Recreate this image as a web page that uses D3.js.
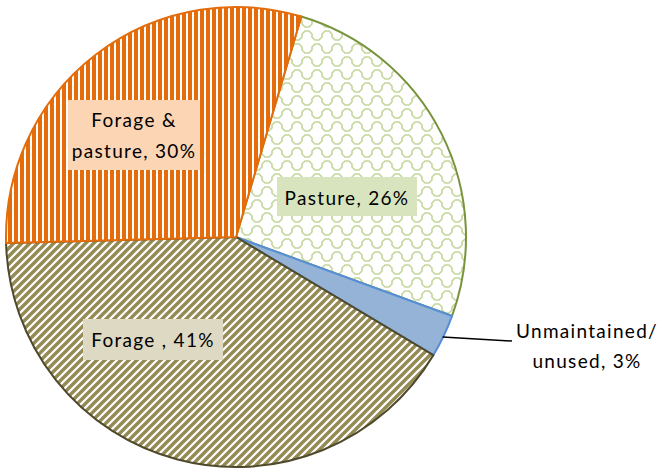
<!DOCTYPE html>
<html><head><meta charset="utf-8">
<script src="https://cdn.jsdelivr.net/npm/d3@7"></script>
<style>body{margin:0;background:#fff}</style>
</head><body>
<svg id="c" width="668" height="469"></svg>
<script>
const categories = ["Pasture", "Unmaintained/ unused", "Forage", "Forage & pasture"];
const values = [26, 3, 41, 30];
const labelLines = [["Pasture, 26%"], ["Unmaintained/", "unused, 3%"], ["Forage , 41%"], ["Forage &", "pasture, 30%"]];

const svg = d3.select("#c");
const cx = 236, cy = 237, R = 230;
const startDeg = 16.5;

const defs = svg.append("defs");
const p1 = defs.append("pattern").attr("id","pOrange").attr("patternUnits","userSpaceOnUse").attr("width",6).attr("height",6);
p1.append("rect").attr("width",6).attr("height",6).attr("fill","#fff");
p1.append("rect").attr("width",4).attr("height",6).attr("fill","#E46C0A");
const p2 = defs.append("pattern").attr("id","pOlive").attr("patternUnits","userSpaceOnUse").attr("width",8).attr("height",8);
p2.append("rect").attr("width",8).attr("height",8).attr("fill","#fff");
p2.append("path").attr("d","M-2,10 L10,-2 M-2,2 L2,-2 M6,10 L10,6").attr("stroke","#948A54").attr("stroke-width",3.4);
const p3 = defs.append("pattern").attr("id","pGreen").attr("patternUnits","userSpaceOnUse").attr("width",20).attr("height",26);
p3.append("rect").attr("width",20).attr("height",26).attr("fill","#fff");
p3.append("path").attr("d","M0,11 L3,11 L6,8 L6,5 L9,2 L13,2 L16,5 L16,8 L19,11 L20,11 M-10,24 L-7,24 L-4,21 L-4,18 L-1,15 L3,15 L6,18 L6,21 L9,24 L13,24 L16,21 L16,18 L19,15 L23,15")
  .attr("fill","none").attr("stroke","#C3D69B").attr("stroke-width",1.6);

const fills = ["url(#pGreen)", "#95B3D7", "url(#pOlive)", "url(#pOrange)"];
const strokes = ["#77933C", "#558ED5", "#4F4A2C", "#E46C0A"];
const labelBg = ["#D7E4BD", null, "#DDD9C3", "#FCD5B5"];

const pie = d3.pie().sort(null).value(d => d)
  .startAngle(startDeg*Math.PI/180).endAngle((startDeg+360)*Math.PI/180);
const arcs = pie(values);
const arc = d3.arc().innerRadius(0).outerRadius(R);

const g = svg.append("g").attr("transform",`translate(${cx},${cy})`);
g.selectAll("path.s").data(arcs).enter().append("path").attr("class","s")
  .attr("d", arc).attr("fill",(d,i)=>fills[i]).attr("stroke",(d,i)=>strokes[i]).attr("stroke-width",2)
  .attr("stroke-linejoin","round");

const fontFam = "Lato, 'Open Sans', sans-serif";
const fs = 19;
const labelPos = [
  {x: 347, ys: [205], box:[277,177,140,39]},
  {x: 587, ys: [338, 368]},
  {x: 153, ys: [347], box:[83,319,140,41]},
  {x: 134, ys: [127, 158], box:[68,100,132,70]}
];
arcs.forEach((a,i)=>{
  const lp = labelPos[i];
  if (lp.box) {
    svg.append("rect").attr("x",lp.box[0]).attr("y",lp.box[1]).attr("width",lp.box[2]).attr("height",lp.box[3]).attr("fill",labelBg[i]);
  }
  const t = svg.append("text").attr("font-family",fontFam).attr("font-size",fs).attr("fill","#000")
    .attr("text-anchor","middle").attr("letter-spacing",1.3);
  labelLines[i].forEach((s,k)=>{
    t.append("tspan").attr("x",lp.x).attr("y",lp.ys[k]).text(s);
  });
});
{
  const a = arcs[1];
  const mid = (a.startAngle+a.endAngle)/2;
  const px = cx + Math.sin(mid)*R, py = cy - Math.cos(mid)*R;
  svg.append("path").attr("d",`M${px-1},${py+1} L512,341`).attr("stroke","#000").attr("stroke-width",1.5).attr("fill","none");
}
</script>
</body></html>
